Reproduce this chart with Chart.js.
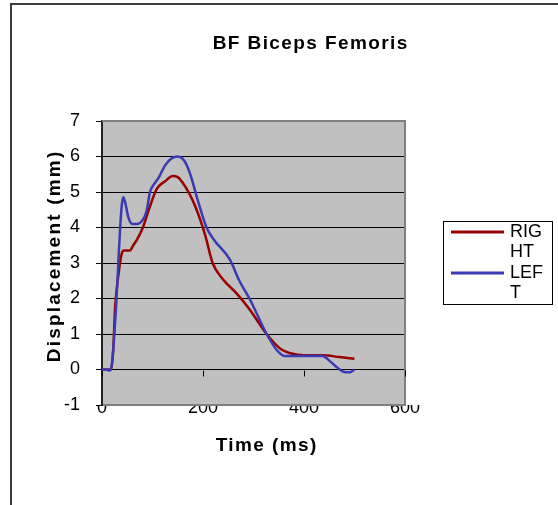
<!DOCTYPE html>
<html>
<head>
<meta charset="utf-8">
<script src="https://cdn.jsdelivr.net/npm/chart.js@4.4.0/dist/chart.umd.min.js"></script>
<style>
  html, body { margin: 0; padding: 0; background: #fff; overflow: hidden; }
</style>
</head>
<body>
<canvas id="bf" width="558" height="505"></canvas>
<script>
// time (ms) and displacement (mm) per side
const timeRight = [0, 10, 18, 22, 26, 32, 38, 43, 55, 62, 69, 81, 95, 109, 125, 140, 150, 165, 180, 195, 205, 219, 239, 266, 292, 326, 352, 375, 400, 437, 470, 500];
const right     = [0, 0, 0, 0.5, 1.75, 2.6, 3.2, 3.35, 3.35, 3.5, 3.65, 4.0, 4.6, 5.1, 5.3, 5.45, 5.42, 5.15, 4.75, 4.2, 3.75, 3.0, 2.55, 2.15, 1.7, 1.0, 0.6, 0.45, 0.4, 0.4, 0.35, 0.3];

const timeLeft = [0, 8, 15, 19, 23, 28, 33, 36, 39, 42, 46, 52, 60, 70, 80, 88, 95, 102, 112, 125, 138, 150, 160, 168, 176, 190, 207, 222, 253, 272, 292, 326, 346, 362, 400, 437, 450, 462, 476, 490, 500];
const left     = [0, 0, -0.03, 0.1, 0.7, 1.8, 3.2, 4.0, 4.6, 4.85, 4.7, 4.3, 4.1, 4.1, 4.2, 4.45, 5.0, 5.2, 5.4, 5.75, 5.95, 6.0, 5.93, 5.75, 5.45, 4.75, 4.0, 3.65, 3.1, 2.5, 2.0, 1.0, 0.55, 0.38, 0.38, 0.38, 0.25, 0.1, -0.05, -0.08, 0];

const xTicks = [0, 200, 400, 600];
const yTicks = [-1, 0, 1, 2, 3, 4, 5, 6, 7];

const FONT = "'Liberation Sans', Arial, sans-serif";

function pts(t, v) {
  return t.map((x, i) => ({ x: x, y: v[i] }));
}

function spacedText(ctx, text, x, y, spacing) {
  ctx.letterSpacing = spacing + 'px';
  const w = ctx.measureText(text).width;
  ctx.fillText(text, x - (w - spacing) / 2, y);
  ctx.letterSpacing = '0px';
}

const excelFrame = {
  id: 'excelFrame',
  beforeDraw(chart) {
    const { ctx, chartArea: a } = chart;
    ctx.save();
    // outer chart border, open to the right and bottom
    ctx.strokeStyle = '#3c3c3c';
    ctx.lineWidth = 2;
    ctx.beginPath();
    ctx.moveTo(11, chart.height);
    ctx.lineTo(11, 4);
    ctx.lineTo(chart.width, 4);
    ctx.stroke();
    ctx.fillStyle = '#c0c0c0';
    ctx.fillRect(a.left, a.top, a.right - a.left, a.bottom - a.top);
    ctx.restore();
  },
  beforeDatasetsDraw(chart) {
    const { ctx, chartArea: a, scales } = chart;
    ctx.save();
    ctx.strokeStyle = '#808080';
    ctx.lineWidth = 2;
    ctx.beginPath();
    ctx.moveTo(a.left, a.top);
    ctx.lineTo(a.right, a.top);
    ctx.lineTo(a.right, a.bottom);
    ctx.lineTo(a.left + 1, a.bottom);
    ctx.stroke();
    // the time axis crosses at 0 mm, tick marks hang below it
    const y0 = Math.round(scales.y.getPixelForValue(0)) + 0.5;
    ctx.strokeStyle = '#000';
    ctx.lineWidth = 1;
    ctx.beginPath();
    scales.x.ticks.forEach(t => {
      const px = Math.round(scales.x.getPixelForValue(t.value)) + 0.5;
      ctx.moveTo(px, y0);
      ctx.lineTo(px, y0 + 6);
    });
    ctx.stroke();
    ctx.restore();
  },
  afterDraw(chart) {
    const { ctx } = chart;
    ctx.save();
    ctx.fillStyle = '#000';
    ctx.textBaseline = 'alphabetic';
    ctx.font = 'bold 19px ' + FONT;
    spacedText(ctx, 'BF Biceps Femoris', 310, 49, 1.4);
    spacedText(ctx, 'Time (ms)', 266, 451, 1.4);
    ctx.translate(60, 257);
    ctx.rotate(-Math.PI / 2);
    spacedText(ctx, 'Displacement (mm)', 0, 0, 2.2);
    ctx.restore();

    // legend box with labels wrapped the narrow way
    ctx.save();
    ctx.strokeStyle = '#000';
    ctx.lineWidth = 1;
    ctx.strokeRect(443.5, 221.5, 109, 83);
    ctx.font = '18px ' + FONT;
    ctx.textBaseline = 'middle';
    ctx.fillStyle = '#000';
    chart.data.datasets.forEach((ds, i) => {
      const cy = 232 + i * 41;
      ctx.strokeStyle = ds.borderColor;
      ctx.lineWidth = 3;
      ctx.beginPath();
      ctx.moveTo(451, cy);
      ctx.lineTo(504, cy);
      ctx.stroke();
      const parts = ds.label.match(/.{1,3}/g);
      parts.forEach((p, j) => ctx.fillText(p, 510, cy + j * 20));
    });
    ctx.restore();
  }
};

new Chart(document.getElementById('bf'), {
  type: 'line',
  data: {
    datasets: [
      {
        label: 'RIGHT',
        data: pts(timeRight, right),
        borderColor: '#990000',
        borderWidth: 2.5,
        pointRadius: 0,
        cubicInterpolationMode: 'monotone',
        order: 1
      },
      {
        label: 'LEFT',
        data: pts(timeLeft, left),
        borderColor: '#3a3ab4',
        borderWidth: 2.5,
        pointRadius: 0,
        cubicInterpolationMode: 'monotone',
        order: 0
      }
    ]
  },
  options: {
    responsive: false,
    animation: false,
    layout: { padding: { top: 121, right: 153, bottom: 0, left: 0 } },
    plugins: {
      legend: { display: false },
      tooltip: { enabled: false }
    },
    scales: {
      x: {
        type: 'linear',
        min: 0,
        max: 600,
        afterBuildTicks: s => { s.ticks = xTicks.map(v => ({ value: v })); },
        afterFit: s => { s.height = 100; },
        grid: { display: false },
        border: { display: false },
        ticks: {
          color: '#000',
          font: { family: FONT, size: 18 },
          padding: -16,
          maxRotation: 0,
          autoSkip: false
        }
      },
      y: {
        type: 'linear',
        min: -1,
        max: 7,
        afterBuildTicks: s => { s.ticks = yTicks.map(v => ({ value: v })); },
        afterFit: s => { s.width = 102; },
        grid: { color: '#000', lineWidth: 1, tickLength: 6 },
        border: { color: '#222', width: 2 },
        ticks: {
          color: '#000',
          font: { family: FONT, size: 18 },
          padding: 16
        }
      }
    }
  },
  plugins: [excelFrame]
});
</script>
</body>
</html>
